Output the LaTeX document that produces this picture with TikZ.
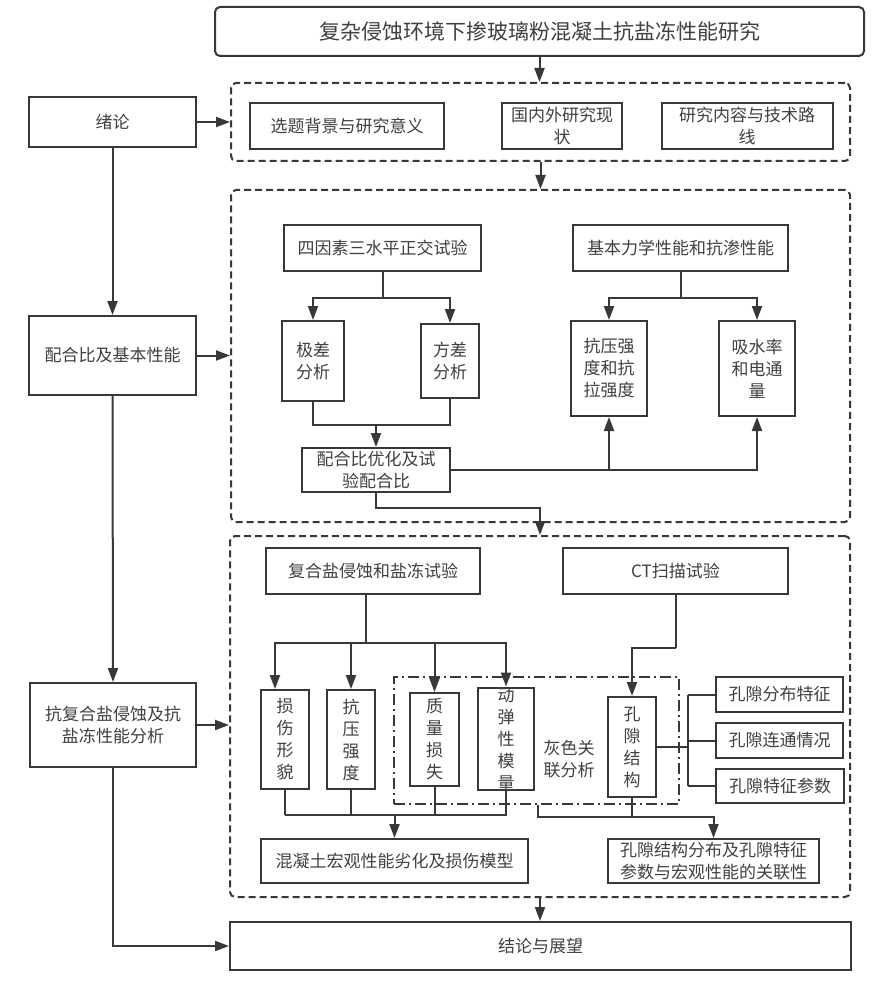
\documentclass[tikz,border=0pt]{standalone}
\usepackage{fontspec}
\newfontfamily\cjk{Noto Sans CJK SC}
\usetikzlibrary{arrows.meta}
\definecolor{lc}{HTML}{383838}
\definecolor{tc}{HTML}{404040}
\begin{document}
\begin{tikzpicture}[x=1pt,y=-1pt,
  lw/.style={line width=2pt, draw=lc},
  box/.style={lw, inner sep=0pt, align=center, text=tc, font=\cjk\fontsize{17}{22}\selectfont},
  dbox/.style={draw=lc, line width=2pt, dash pattern=on 7pt off 4pt, rounded corners=5pt, inner sep=0pt},
  ddbox/.style={draw=lc, line width=2pt, dash pattern=on 11pt off 4pt on 2pt off 4pt, inner sep=0pt},
  arr/.style={lw, -{Triangle[length=14pt,width=10pt]}},
  lbl/.style={inner sep=0pt, align=center, text=tc, font=\cjk\fontsize{17}{22}\selectfont},
]
\useasboundingbox (0,0) rectangle (890,984);
\fill[white] (0,0) rectangle (890,984);

% dashed frames
\node[dbox, minimum width=619pt, minimum height=78pt] (d1) at (540.5,122) {};
\node[dbox, minimum width=619pt, minimum height=332pt] (d2) at (540.5,356) {};
\node[dbox, minimum width=620pt, minimum height=361pt] (d3) at (540,716.5) {};
\node[ddbox, minimum width=285pt, minimum height=127pt] (gray) at (536.5,740.5) {};

% title
\node[box, rounded corners=5pt, minimum width=649pt, minimum height=49pt, font=\cjk\fontsize{21}{24}\selectfont] (title) at (539.5,31.5) {复杂侵蚀环境下掺玻璃粉混凝土抗盐冻性能研究};

% left column
\node[box, minimum width=167pt, minimum height=50pt] (xl) at (112.5,122) {绪论};
\node[box, minimum width=167pt, minimum height=79pt] (phb) at (112.5,355.5) {配合比及基本性能};
\node[box, minimum width=166pt, minimum height=84pt] (kfh) at (113,725) {抗复合盐侵蚀及抗\\盐冻性能分析};
\node[box, minimum width=621pt, minimum height=48pt] (jl) at (540.5,946) {结论与展望};

% frame 1
\node[box, minimum width=194pt, minimum height=46pt] (xt) at (347,126) {选题背景与研究意义};
\node[box, minimum width=120pt, minimum height=46pt] (gn) at (562,126) {国内外研究现\\状};
\node[box, minimum width=171pt, minimum height=46pt] (yj) at (747,126) {研究内容与技术路\\线};

% frame 2
\node[box, minimum width=197pt, minimum height=46pt] (sy) at (382.5,248) {四因素三水平正交试验};
\node[box, minimum width=215pt, minimum height=46pt] (jb) at (680.5,248) {基本力学性能和抗渗性能};
\node[box, minimum width=62pt, minimum height=80pt] (jc) at (313,361) {极差\\分析};
\node[box, minimum width=58pt, minimum height=74pt] (fc) at (450,361) {方差\\分析};
\node[box, minimum width=76pt, minimum height=95pt] (ky) at (609,368.5) {抗压强\\度和抗\\拉强度};
\node[box, minimum width=76pt, minimum height=95pt] (xs) at (757,368.5) {吸水率\\和电通\\量};
\node[box, minimum width=148pt, minimum height=44pt] (opt) at (376,470) {配合比优化及试\\验配合比};

% frame 3
\node[box, minimum width=214pt, minimum height=46pt] (fh) at (373,571) {复合盐侵蚀和盐冻试验};
\node[box, minimum width=225pt, minimum height=46pt] (ct) at (675.5,571) {CT扫描试验};
\node[box, minimum width=48pt, minimum height=99pt] (ss) at (285,739.5) {损\\伤\\形\\貌};
\node[box, minimum width=48pt, minimum height=99pt] (ky2) at (351,739.5) {抗\\压\\强\\度};
\node[box, minimum width=49pt, minimum height=93pt] (zl) at (434.5,739.5) {质\\量\\损\\失};
\node[box, minimum width=56pt, minimum height=98pt] (dt) at (506,739) {动\\弹\\性\\模\\量};
\node[lbl] (hs) at (569,759) {灰色关\\联分析};
\node[box, minimum width=48pt, minimum height=100pt] (kx) at (632,747) {孔\\隙\\结\\构};
\node[box, minimum width=127pt, minimum height=35pt] (p1) at (779.5,694.5) {孔隙分布特征};
\node[box, minimum width=127pt, minimum height=35pt] (p2) at (779.5,740.5) {孔隙连通情况};
\node[box, minimum width=128pt, minimum height=34pt] (p3) at (780,786) {孔隙特征参数};
\node[box, minimum width=267pt, minimum height=44pt] (hn) at (394.5,861) {混凝土宏观性能劣化及损伤模型};
\node[box, minimum width=211pt, minimum height=44pt] (ps) at (713.5,861) {孔隙结构分布及孔隙特征\\参数与宏观性能的关联性};

% main flow
\draw[arr] (title.south) -- (title.south |- d1.north);
\draw[arr] (xl.east) -- (xl.east -| d1.west);
\draw[arr] (d1.south) -- (d1.south |- d2.north);
\draw[arr] (xl.south) -- (phb.north);
\draw[arr] (phb.east) -- (phb.east -| d2.west);
\draw[arr] (phb.south) -- (kfh.north);
\draw[arr] (kfh.east) -- (kfh.east -| d3.west);
\draw[arr] (kfh.south) |- (jl.west);
\draw[arr] (d3.south) -- (d3.south |- jl.north);

% frame 2 connectors
\draw[lw] (sy.south) -- ++(0,26) coordinate (j1);
\draw[arr] (j1) -| (jc.north);
\draw[arr] (j1) -| (fc.north);
\draw[lw] (jb.south) -- ++(0,26) coordinate (j2);
\draw[arr] (j2) -| (ky.north);
\draw[arr] (j2) -| (xs.north);
\draw[lw] (jc.south) -- ++(0,23) coordinate (j3) -| (fc.south);
\draw[arr] (j3 -| opt.north) -- (opt.north);
\draw[arr] (opt.east) -| (ky.south);
\draw[arr] (opt.east) -| (xs.south);
\draw[arr] (opt.south) -- ++(0,15) -| (d3.north);

% frame 3 connectors
\draw[lw] ([xshift=-7pt]fh.south) -- ++(0,48) coordinate (j4);
\draw[arr] (j4) -| ([xshift=-10pt]ss.north);
\draw[arr] (j4) -| (ky2.north);
\draw[arr] (j4) -| (zl.north);
\draw[arr] (j4) -| (dt.north);
\draw[lw] (ss.south) -- ++(0,25) coordinate (j5);
\draw[lw] (j5) -- (j5 -| dt.south) -- (dt.south);
\draw[lw] (ky2.south) -- (ky2.south |- j5);
\draw[lw] (zl.south) -- (zl.south |- j5);
\draw[arr] (j5 -| hn.north) -- (hn.north);
\draw[lw] (ct.south) -- ++(0,53) coordinate (j6);
\draw[arr] (j6) -| (kx.north);
\draw[lw] (kx.east) -- ++(31,0) coordinate (j7);
\draw[lw] (j7 |- p1.west) -- (j7 |- p3.west);
\draw[lw] (j7 |- p1.west) -- (p1.west);
\draw[lw] (j7 |- p2.west) -- (p2.west);
\draw[lw] (j7 |- p3.west) -- (p3.west);
\draw[arr] ([xshift=3pt]gray.south -| dt.east) -- ++(0,12) coordinate (j8) -| (ps.north);
\draw[lw] (kx.south) -- (kx.south |- j8);
\end{tikzpicture}
\end{document}
